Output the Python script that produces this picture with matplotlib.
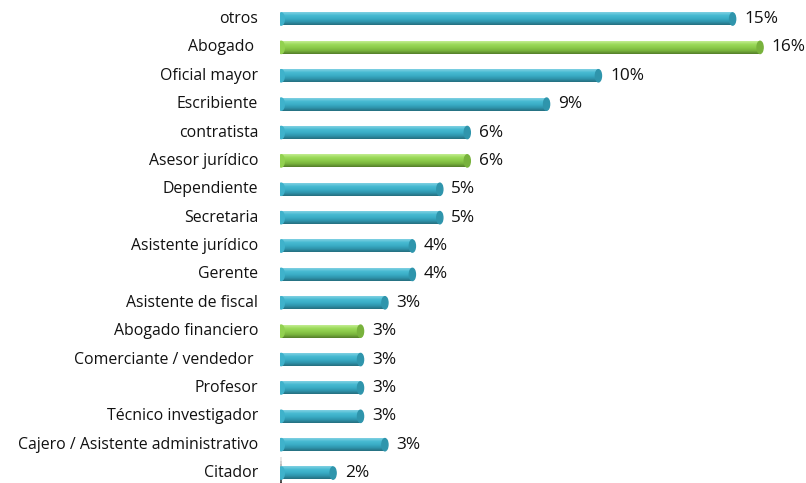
import numpy as np
import matplotlib
matplotlib.use("Agg")
import matplotlib.pyplot as plt
from matplotlib.colors import LinearSegmentedColormap
from matplotlib.patches import Ellipse, Rectangle

plt.rcParams['font.family'] = ['Open Sans', 'DejaVu Sans']

# ocupaciones y porcentaje de encuestados
ocupaciones = ["otros", "Abogado ", "Oficial mayor", "Escribiente", "contratista",
               "Asesor jurídico", "Dependiente", "Secretaria", "Asistente jurídico",
               "Gerente", "Asistente de fiscal", "Abogado financiero",
               "Comerciante / vendedor ", "Profesor", "Técnico investigador",
               "Cajero / Asistente administrativo", "Citador"]
porcentajes = [14.8, 15.7, 10.4, 8.7, 6.1, 6.1, 5.2, 5.2, 4.3, 4.3, 3.4, 2.6,
               2.6, 2.6, 2.6, 3.4, 1.7]
resaltar = ["Abogado ", "Asesor jurídico", "Abogado financiero"]

# degradado vertical de cada cilindro (arriba -> abajo)
azul = LinearSegmentedColormap.from_list(
    "azul", ["#7fd0e2", "#47bad2", "#3aadc6", "#2f95ad", "#266f80"])
verde = LinearSegmentedColormap.from_list(
    "verde", ["#c2ec90", "#9bda5a", "#8ccb4a", "#78b33c", "#557f2b"])
grad = np.linspace(0, 1, 32).reshape(-1, 1)

fig = plt.figure(figsize=(8.06, 4.83), dpi=100)
ax = fig.add_axes([0.3474, 0.0, 0.6526, 1.0])

h = 0.45
x0 = 0.04
for i, (nom, v) in enumerate(zip(ocupaciones, porcentajes)):
    cm = verde if nom in resaltar else azul
    ax.imshow(grad, cmap=cm, aspect="auto", interpolation="bilinear",
              extent=[x0, x0 + v, i + h / 2, i - h / 2], zorder=2)
    # extremos redondeados
    ax.add_patch(Ellipse((x0 + v, i), 0.2, h * 0.96, color=cm(0.75), zorder=3))
    ax.add_patch(Ellipse((x0, i), 0.2, h * 0.96, color=cm(0.4), zorder=3))
    ax.text(x0 + v + 0.38, i, "%.0f%%" % v, va="center", ha="left",
            fontsize=12.4, color="#111111")
    ax.text(-0.72, i, nom, va="center", ha="right", fontsize=11.4,
            color="#111111", clip_on=False)

# pared del eje
ax.plot([-0.17, -0.17], [-0.35, 16.35], color="#d6d6d6", lw=2.5, zorder=1,
        solid_capstyle="butt")
for k in range(9):
    ax.add_patch(Rectangle((-0.12, 15.45 + k * 0.11), 0.2, 0.11,
                           color="#333333", alpha=0.12 + 0.1 * k,
                           lw=0, zorder=1))

ax.set_xlim(0, 526 / 30.5)
ax.set_ylim(16.35, -0.67)
ax.axis("off")

fig.savefig("out.png", dpi=100)
